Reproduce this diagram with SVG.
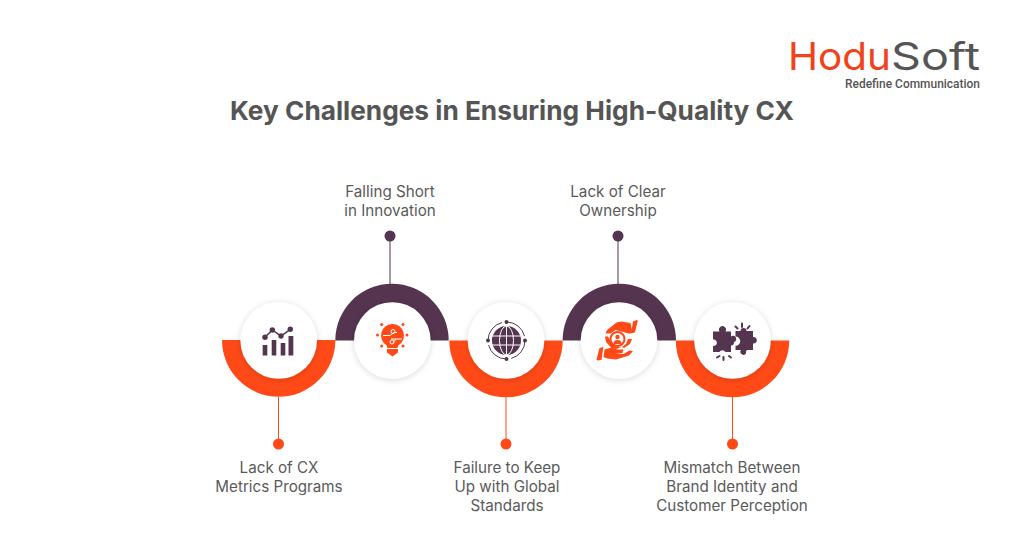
<svg xmlns="http://www.w3.org/2000/svg" width="1024" height="538" viewBox="0 0 1024 538">
<defs>
<filter id="sh" x="-30%" y="-30%" width="160%" height="160%"><feDropShadow dx="0" dy="1" stdDeviation="3" flood-color="#000" flood-opacity="0.16"/></filter>
<path id="down" d="M-56.700 0H56.700A56.700 56.700 0 0 1 -56.700 0Z"/>
<path id="up" d="M-56.700 0H56.700A56.700 56.700 0 0 0 -56.700 0Z"/>
</defs>
<style>
.t{font-family:Inter,"Liberation Sans",Arial,sans-serif;font-size:15.200px;fill:#5a5a5a;text-anchor:middle;}
.o{fill:#ff4a17}.p{fill:#55344f}
.lo{stroke:#ff4a17;stroke-width:1}.lp{stroke:#55344f;stroke-width:1}
.disc{fill:#fff;filter:url(#sh)}
</style>
<rect width="1024" height="538" fill="#fff"/>
<g id="logo">
<text x="788" y="70" font-family="Inter,'Liberation Sans',sans-serif" font-size="38" font-weight="400" fill="#f0431c" textLength="103" lengthAdjust="spacingAndGlyphs">Hodu</text>
<text x="891" y="70" font-family="Inter,'Liberation Sans',sans-serif" font-size="38" font-weight="400" fill="#555" textLength="89" lengthAdjust="spacingAndGlyphs">Soft</text>
<text x="845" y="88" font-family="Roboto,'Liberation Sans',sans-serif" font-size="12" font-weight="500" fill="#555" textLength="135" lengthAdjust="spacingAndGlyphs">Redefine Communication</text>
</g>
<text id="title" x="512" y="120" font-family="Inter,'Liberation Sans',sans-serif" font-size="26" font-weight="700" fill="#555" text-anchor="middle" textLength="564" lengthAdjust="spacingAndGlyphs">Key Challenges in Ensuring High-Quality CX</text>
<g id="connectors">
<line class="lo" x1="278.500" y1="397" x2="278.500" y2="444"/>
<line class="lp" x1="390" y1="236" x2="390" y2="284"/>
<line class="lo" x1="506" y1="397" x2="506" y2="444"/>
<line class="lp" x1="618" y1="236" x2="618" y2="284"/>
<line class="lo" x1="732.500" y1="397" x2="732.500" y2="444"/>
</g>
<g id="node1">
<use href="#down" class="o" x="278.700" y="340"/>
<circle class="disc" cx="278.700" cy="340.500" r="38.300"/>
<g class="p"><rect x="262.700" y="345" width="4.600" height="10.500"/><rect x="271.700" y="340" width="4.600" height="15.500"/><rect x="280.700" y="343" width="4.600" height="12.500"/><rect x="288.500" y="336" width="4.800" height="19.500"/>
<path d="M265 337.300L272.300 330L281 336L290.300 329.300" fill="none" stroke="#55344f" stroke-width="1.500"/>
<circle cx="265" cy="337.300" r="2.700"/><circle cx="272.300" cy="330" r="2.700"/><circle cx="281" cy="336" r="2.700"/><circle cx="290.300" cy="329.300" r="2.700"/></g>
<circle class="o" cx="278.500" cy="444" r="5.500"/>
<text class="t"><tspan x="279" y="473">Lack of CX</tspan><tspan x="279" y="492">Metrics Programs</tspan></text>
</g>
<g id="node2">
<use href="#up" class="p" x="392" y="340.500"/>
<circle class="disc" cx="392.300" cy="340.500" r="38.300"/>
<g class="o"><path d="M392.500 324a11.500 11.500 0 0 1 6 21.300l-1 2.700h-10l-1-2.700a11.500 11.500 0 0 1 6-21.300Z"/><path d="M387 349h11v3.500l-5.500 4-5.500-4Z"/>
<circle cx="377.500" cy="335" r="1.500"/><circle cx="407" cy="335" r="1.500"/><circle cx="381.700" cy="324.500" r="1.500"/><circle cx="403" cy="324.500" r="1.500"/><circle cx="381.700" cy="346" r="1.500"/><circle cx="403" cy="346" r="1.500"/></g>
<path d="M383 335.500h7l4-3h3M391 339h11M396 339l-3 4" stroke="#fff" stroke-width="1" fill="none"/><circle cx="393" cy="331.500" r="2" fill="none" stroke="#fff"/><circle cx="392" cy="342" r="2" fill="none" stroke="#fff"/>
<circle class="p" cx="390" cy="236" r="5.500"/>
<text class="t"><tspan x="390" y="197">Falling Short</tspan><tspan x="390" y="216">in Innovation</tspan></text>
</g>
<g id="node3">
<use href="#down" class="o" x="506" y="340.500"/>
<circle class="disc" cx="506" cy="340.500" r="38.300"/>
<circle class="p" cx="506.500" cy="340.500" r="14.500"/>
<g fill="none" stroke="#fff" stroke-width="1"><ellipse cx="506.500" cy="340.500" rx="7" ry="14.500"/><path d="M506.500 326v29M492.500 336h28M492.500 345h28"/></g>
<circle cx="506.500" cy="340.500" r="18.500" fill="none" stroke="#55344f" stroke-width="1" stroke-dasharray="24 5"/>
<g class="p"><circle cx="506.500" cy="322" r="2"/><circle cx="506.500" cy="359" r="2"/><circle cx="488" cy="340.500" r="2"/><circle cx="525" cy="340.500" r="2"/></g>
<circle class="o" cx="506" cy="444" r="5.500"/>
<text class="t"><tspan x="507" y="473">Failure to Keep</tspan><tspan x="507" y="492">Up with Global</tspan><tspan x="507" y="511">Standards</tspan></text>
</g>
<g id="node4">
<use href="#up" class="p" x="619.300" y="340.500"/>
<circle class="disc" cx="619" cy="340.500" r="38.300"/>
<g class="o"><path d="M633 321.500l4-1.500 0.800 1-3 11.500-3.800 1Z"/><path d="M630.500 323l-9-1.500-5 1-9.500 7.500-1.500 3.500 5 0 5-3.500 8 2 5 1.500 1.500 0 2.500-1Z"/><path d="M601.500 360l-4 0.500-1-1 3-11.500 3.800-1Z"/><path d="M604.500 349.500l7-2 6 2h6l-1 3.500h-7l8 1 6-3.500 3.500 0.500-4 4.500-13 4-9-1-3.500-1.500Z"/><path d="M605 336.500l3 0 4 7.500 5 3 4 0-4.500 2-5-1-5.500-6Z"/><path d="M632 339l-2 5-6 4-2-1 4-3 2-5Z"/></g>
<circle cx="617.500" cy="339" r="7" fill="none" stroke="#ff4a17" stroke-width="2"/><circle class="o" cx="617.500" cy="337" r="2.200"/><path class="o" d="M613.500 344a4 4 0 0 1 8 0Z"/>
<circle class="p" cx="618" cy="236" r="5.500"/>
<text class="t"><tspan x="618" y="197">Lack of Clear</tspan><tspan x="618" y="216">Ownership</tspan></text>
</g>
<g id="node5">
<use href="#down" class="o" x="732.500" y="340.500"/>
<circle class="disc" cx="732.500" cy="340.500" r="38.300"/>
<g class="p"><path d="M713 331.500h6.500a3.500 3.500 0 1 1 6 0H731v5a3.200 3.200 0 1 1 3 5.500 3.200 3.200 0 0 1-3 3.500v6.500h-5.500a3.500 3.500 0 0 0-6 0H713v-6a3.300 3.300 0 1 0 0-6.500a3.300 3.300 0 0 0 0-1.500Z"/>
<path d="M735.500 331h5a3 3 0 1 1 6 0h6.500v6a3.300 3.300 0 1 1 0 6.500v6.500h-6a3.300 3.300 0 0 0-1 3.500 3 3 0 1 1-5-3.500h-5.500v-4a4.500 4.500 0 0 0 0-9.500Z"/>
<path d="M735.500 326.500l2 2M742 323.500v3.500M749.500 326l-2 2.500M717 357.500l2.500-1.500M723.500 360v-3M731 357.500l-2-1.500" stroke="#55344f" stroke-width="2" stroke-linecap="round" fill="none"/></g>
<circle class="o" cx="732.500" cy="444" r="5.500"/>
<text class="t"><tspan x="732" y="473">Mismatch Between</tspan><tspan x="732" y="492">Brand Identity and</tspan><tspan x="732" y="511">Customer Perception</tspan></text>
</g>
</svg>
